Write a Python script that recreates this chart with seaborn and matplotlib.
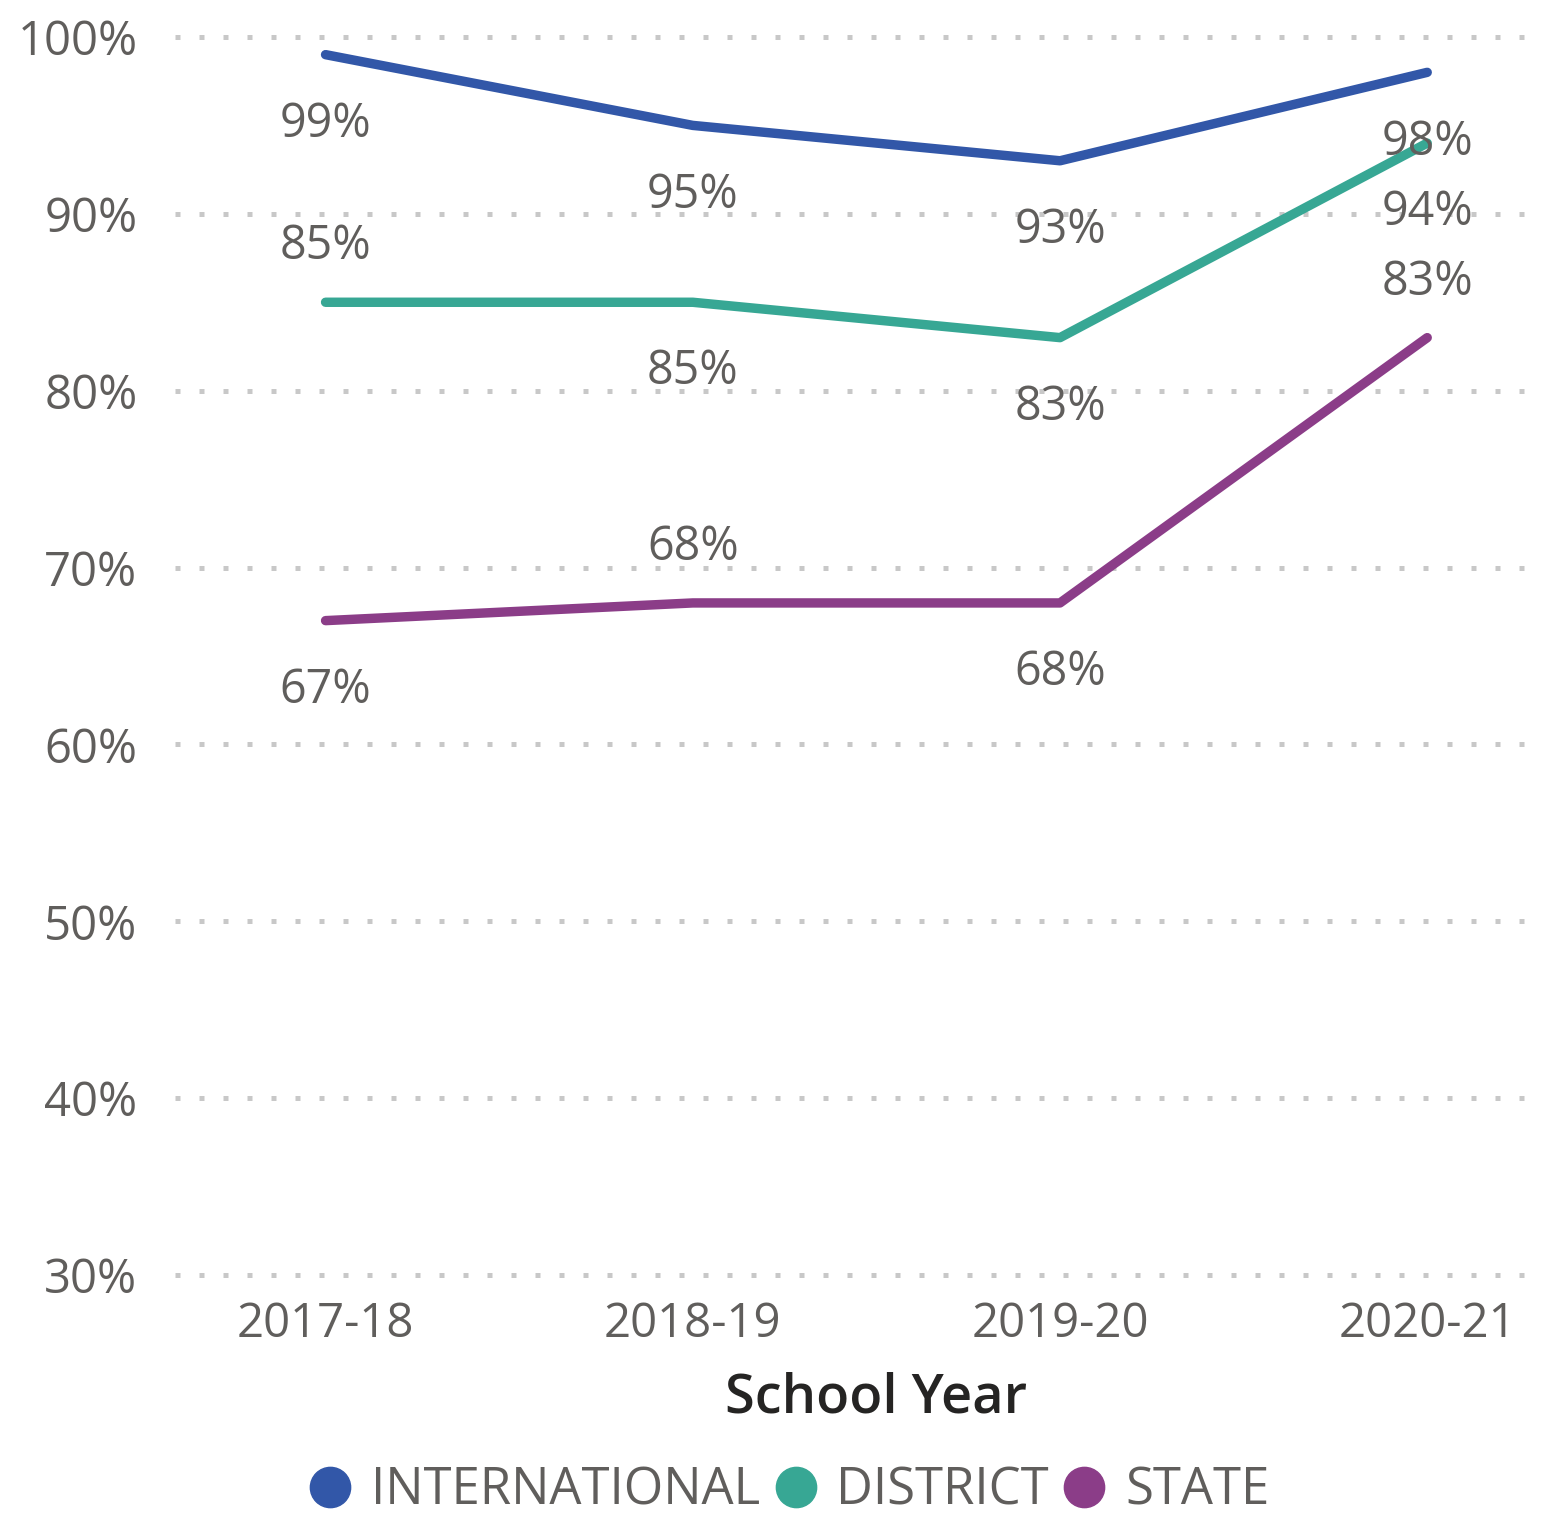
import pandas as pd
import matplotlib.pyplot as plt
import seaborn as sns
from matplotlib.lines import Line2D


# Data
years = ['2017-18', '2018-19', '2019-20', '2020-21']
international = [99, 95, 93, 98]
district = [85, 85, 83, 94]
state = [67, 68, 68, 83]
series_names = ['INTERNATIONAL', 'DISTRICT', 'STATE']
y_ticks = [30, 40, 50, 60, 70, 80, 90, 100]

colors = {'INTERNATIONAL': '#3257A8', 'DISTRICT': '#37A794', 'STATE': '#8B3D88'}
# where each data label sits relative to its point (+1 above, -1 below)
label_side = {
    'INTERNATIONAL': [-1, -1, -1, -1],
    'DISTRICT': [1, -1, -1, -1],
    'STATE': [-1, 1, -1, 1],
}

rows = []
for name, vals in zip(series_names, [international, district, state]):
    for i, (yr, v) in enumerate(zip(years, vals)):
        rows.append({'year': yr, 'idx': i, 'value': v, 'series': name})
df = pd.DataFrame(rows)

sns.set_style('white')
plt.rcParams['font.family'] = ['Open Sans', 'DejaVu Sans']
gray = '#605E5C'

fig = plt.figure(figsize=(15.68, 15.15), dpi=100)
ax = fig.add_axes([0.1116, 0.1584, 0.8642, 0.8172])

for y in y_ticks:
    ax.axhline(y, color='#C8C8C8', lw=3.6, linestyle=(0, (1, 3.8)), zorder=0, clip_on=False)

sns.lineplot(data=df, x='idx', y='value', hue='series', palette=colors,
             hue_order=series_names, linewidth=6.8, legend=False, ax=ax,
             solid_capstyle='round', zorder=3)
for ln in ax.lines:
    ln.set_clip_on(False)

# data labels
for _, r in df.iterrows():
    side = label_side[r['series']][r['idx']]
    off = 40 if side > 0 else -50
    ax.annotate(f"{r['value']}%", (r['idx'], r['value']), xytext=(0, off),
                textcoords='offset points', ha='center', va='center',
                fontsize=33.5, color=gray, zorder=4)

ax.set_xlim(-0.41, 3.28)
ax.set_ylim(30, 100)
ax.set_xticks(range(len(years)))
ax.set_xticklabels(years)
ax.set_yticks(y_ticks)
ax.set_yticklabels([f'{y}%' for y in y_ticks])
ax.tick_params(axis='both', length=0, labelsize=34, labelcolor=gray)
ax.tick_params(axis='x', pad=18)
ax.tick_params(axis='y', pad=27)
ax.set_xlabel('School Year', fontsize=39, color='#252423', fontweight='semibold')
ax.xaxis.set_label_coords(0.517, -0.078)
ax.set_ylabel('')
sns.despine(ax=ax, left=True, bottom=True)

handles = [Line2D([], [], linestyle='none', marker='o', markersize=29,
                  markerfacecolor=colors[n], markeredgecolor=colors[n]) for n in series_names]
fig.legend(handles, series_names, loc='center', bbox_to_anchor=(0.502, 0.016),
           ncol=3, frameon=False, fontsize=36.5, labelcolor=gray,
           handletextpad=0.3, columnspacing=0.2, handlelength=1.0)

fig.savefig('out.png', dpi=100)
